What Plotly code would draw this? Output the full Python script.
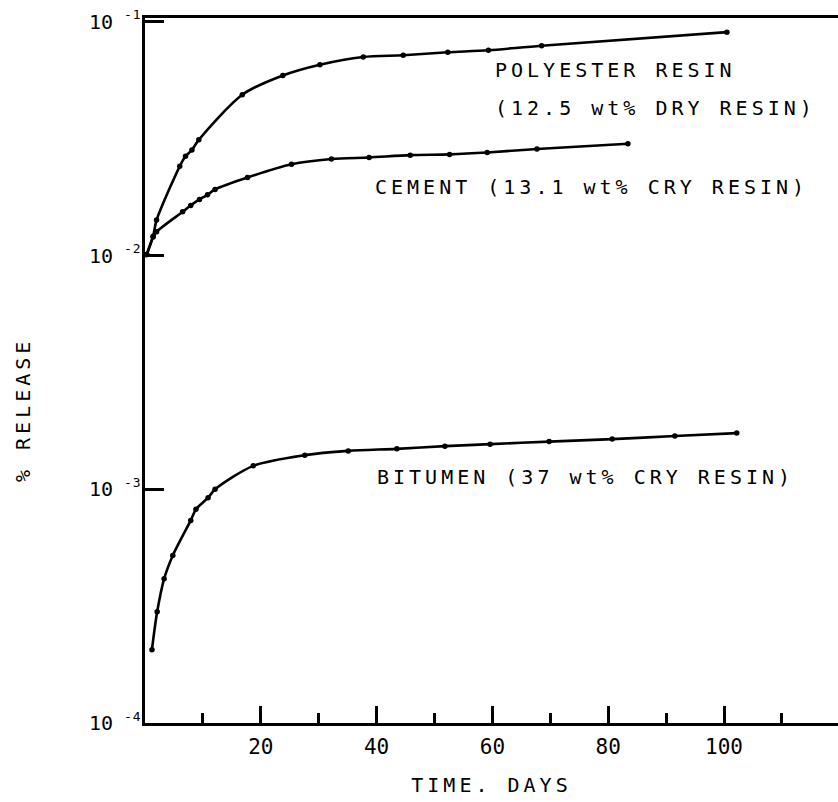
import math
import plotly.graph_objects as go

# ---- data ----
poly_x = [0.3, 1.4, 2.0, 6.0, 7.0, 8.1, 9.3, 16.8, 23.8, 30.2, 37.7, 44.6, 52.3, 59.3, 68.5, 100.5]
poly_y = [0.0101, 0.0121, 0.0142, 0.0241, 0.0266, 0.0283, 0.0313, 0.0488, 0.0590, 0.0656,
          0.0708, 0.0720, 0.0741, 0.0756, 0.0791, 0.0904]

cem_x = [0.3, 1.4, 2.0, 6.5, 7.9, 9.4, 10.8, 12.1, 17.7, 25.3, 32.2, 38.7, 45.8, 52.6, 59.1, 67.7, 83.4]
cem_y = [0.0101, 0.0120, 0.01265, 0.0154, 0.0164, 0.0174, 0.0182, 0.0192, 0.0216, 0.0246,
         0.0259, 0.0263, 0.0269, 0.0271, 0.0276, 0.0286, 0.0301]

bit_x = [1.2, 2.1, 3.3, 4.8, 7.9, 8.8, 10.9, 12.1, 18.7, 27.6, 35.1, 43.5, 51.8, 59.6, 69.8,
         80.7, 91.5, 102.2]
bit_y = [2.06e-4, 2.99e-4, 4.14e-4, 5.21e-4, 7.36e-4, 8.21e-4, 9.21e-4, 1.0e-3, 1.26e-3,
         1.40e-3, 1.46e-3, 1.49e-3, 1.53e-3, 1.56e-3, 1.60e-3, 1.64e-3, 1.69e-3, 1.74e-3]

x_major = [20, 40, 60, 80, 100]
x_minor = [10, 30, 50, 70, 90, 110]
y_ticks = [1e-4, 1e-3, 1e-2, 1e-1]
y_exps = ["-4", "-3", "-2", "-1"]

labels = [
    ("POLYESTER RESIN", 60.1, -1.206),
    ("(12.5 wt% DRY RESIN)", 60.1, -1.368),
    ("CEMENT (13.1 wt% CRY RESIN)", 39.4, -1.706),
    ("BITUMEN (37 wt% CRY RESIN)", 39.7, -2.947),
]

FONT = "DejaVu Sans Mono"


def spaced(t, ls):
    return '<span style="letter-spacing:%spx">%s</span>' % (ls, t)


fig = go.Figure()
for xs, ys in [(poly_x, poly_y), (cem_x, cem_y), (bit_x, bit_y)]:
    fig.add_trace(go.Scatter(
        x=xs, y=ys, mode="lines+markers",
        line=dict(color="black", width=2.6, shape="spline", smoothing=0.8),
        marker=dict(color="black", size=5.5),
        showlegend=False, hoverinfo="skip"))

for txt, ax, ay in labels:
    fig.add_annotation(x=ax, y=ay, xref="x", yref="y", text=spaced(txt, 4),
                       showarrow=False, xanchor="left", yanchor="middle",
                       font=dict(family=FONT, size=20, color="black"))

W, H = 838, 802
L, R, T, B = 145, 0, 18, 79
PW = W - L - R

# exponents of the y tick labels (small raised text after "10"); log axis -> log10 position
for v, e in zip(y_ticks, y_exps):
    fig.add_annotation(x=(122 - L) / PW, y=math.log10(v), xref="paper", yref="y",
                       text=spaced(e, 1),
                       showarrow=False, xanchor="left", yanchor="middle", yshift=7,
                       font=dict(family=FONT, size=13, color="black"))

# y-axis title (pixel placement converted to paper coordinates)
fig.add_annotation(x=(23 - L) / PW, y=(H - B - 410) / (H - T - B),
                   xref="paper", yref="paper", text=spaced("% RELEASE", 4),
                   showarrow=False, textangle=-90, xanchor="center", yanchor="middle",
                   font=dict(family=FONT, size=20, color="black"))

fig.update_layout(
    width=W, height=H,
    margin=dict(l=L, r=R, t=T, b=B),
    paper_bgcolor="white", plot_bgcolor="white",
    font=dict(family=FONT, color="black"),
)

fig.update_xaxes(
    range=[0, PW / 5.79], showgrid=False, zeroline=False,
    showline=True, linecolor="black", linewidth=3, mirror=True,
    ticks="inside", ticklen=17, tickwidth=2.5, tickcolor="black",
    tickvals=x_major, ticktext=[str(v) for v in x_major],
    tickfont=dict(family=FONT, size=21, color="black"),
    ticklabelstandoff=3,
    minor=dict(tickvals=x_minor, ticks="inside", ticklen=10, tickwidth=2.5, tickcolor="black",
               showgrid=False),
    title=dict(text=spaced("TIME. DAYS", 4), font=dict(family=FONT, size=20, color="black"),
               standoff=20),
    automargin=False,
)

fig.update_yaxes(
    type="log", range=[-4, -4 + 705 / 233.7], showgrid=False, zeroline=False,
    showline=True, linecolor="black", linewidth=3, mirror=False,
    ticks="inside", ticklen=19, tickwidth=2.5, tickcolor="black",
    tickvals=y_ticks, ticktext=["10"] * len(y_ticks),
    tickfont=dict(family=FONT, size=20, color="black"),
    ticklabelstandoff=25,
    automargin=False,
)

fig.write_html("out.html")
